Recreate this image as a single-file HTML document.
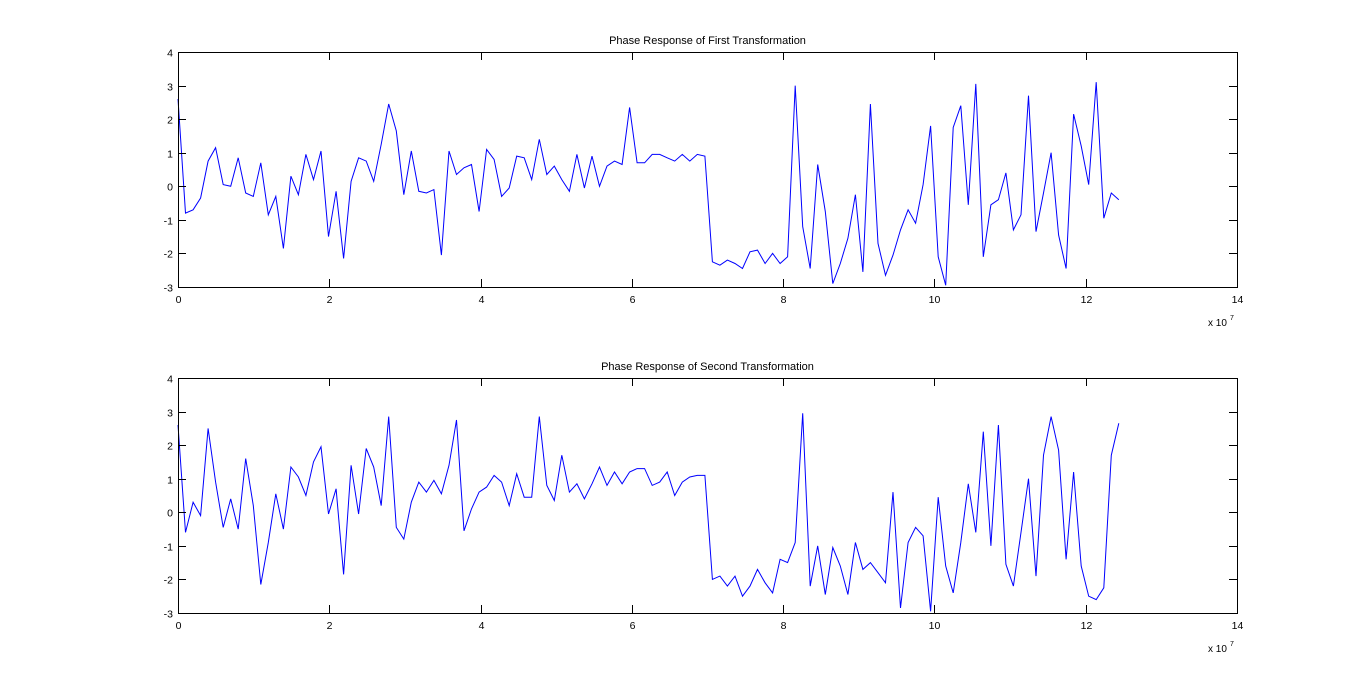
<!DOCTYPE html>
<html><head><meta charset="utf-8">
<style>
html,body{margin:0;padding:0;background:#fff;}
svg{display:block;font-family:"Liberation Sans",sans-serif;}
</style></head>
<body>
<svg id="fig" width="1366" height="689" xmlns="http://www.w3.org/2000/svg"></svg>
<script>
const xStep = 0.0995;
const xTicks = [0,2,4,6,8,10,12,14];
const yTicks = [-3,-2,-1,0,1,2,3,4];
const titles = ["Phase Response of First Transformation","Phase Response of Second Transformation"];
const phase1 = [2.6,-0.8,-0.7,-0.35,0.75,1.15,0.05,0.0,0.85,-0.2,-0.3,0.7,-0.85,-0.3,-1.85,0.3,-0.25,0.95,0.2,1.05,-1.5,-0.15,-2.15,0.15,0.85,0.75,0.15,1.25,2.45,1.65,-0.25,1.05,-0.15,-0.2,-0.1,-2.05,1.05,0.35,0.55,0.65,-0.75,1.1,0.8,-0.3,-0.05,0.9,0.85,0.2,1.4,0.35,0.6,0.2,-0.15,0.95,-0.05,0.9,0.0,0.6,0.75,0.65,2.35,0.7,0.7,0.95,0.95,0.85,0.75,0.95,0.75,0.95,0.9,-2.25,-2.35,-2.2,-2.3,-2.45,-1.95,-1.9,-2.3,-2.0,-2.3,-2.1,3.0,-1.2,-2.45,0.65,-0.75,-2.9,-2.3,-1.55,-0.25,-2.55,2.45,-1.7,-2.65,-2.05,-1.3,-0.7,-1.1,0.05,1.8,-2.1,-2.95,1.75,2.4,-0.55,3.05,-2.1,-0.55,-0.4,0.4,-1.3,-0.85,2.7,-1.35,-0.2,1.0,-1.45,-2.45,2.15,1.2,0.05,3.1,-0.95,-0.2,-0.4];
const phase2 = [2.6,-0.6,0.3,-0.1,2.5,0.9,-0.45,0.4,-0.5,1.6,0.2,-2.15,-0.9,0.55,-0.5,1.35,1.05,0.5,1.5,1.95,-0.05,0.7,-1.85,1.4,-0.05,1.9,1.35,0.2,2.85,-0.45,-0.8,0.3,0.9,0.6,0.95,0.55,1.4,2.75,-0.55,0.1,0.6,0.75,1.1,0.9,0.2,1.15,0.45,0.45,2.85,0.8,0.35,1.7,0.6,0.85,0.4,0.85,1.35,0.8,1.2,0.85,1.2,1.3,1.3,0.8,0.9,1.2,0.5,0.9,1.05,1.1,1.1,-2.0,-1.9,-2.2,-1.9,-2.5,-2.2,-1.7,-2.1,-2.4,-1.4,-1.5,-0.9,2.95,-2.2,-1.0,-2.45,-1.05,-1.6,-2.45,-0.9,-1.7,-1.5,-1.8,-2.1,0.6,-2.85,-0.9,-0.45,-0.7,-2.95,0.45,-1.6,-2.4,-0.9,0.85,-0.6,2.4,-1.0,2.6,-1.55,-2.2,-0.6,1.0,-1.9,1.7,2.85,1.85,-1.4,1.2,-1.6,-2.5,-2.6,-2.25,1.7,2.65];

const NS = "http://www.w3.org/2000/svg";
const svg = document.getElementById('fig');
function mk(tag, attrs, parent){
  const e = document.createElementNS(NS, tag);
  for (const k in attrs) e.setAttribute(k, attrs[k]);
  (parent||svg).appendChild(e);
  return e;
}
const L = 178, R = 1237;
const panels = [{top:52,bottom:287,data:phase1,name:'first'},{top:378,bottom:613,data:phase2,name:'second'}];
panels.forEach((p, pi) => {
  const g = mk('g', {});
  
  
  const xs = v => L + (v - 0) / 14 * (R - L);
  const ys = v => p.bottom - (v + 3) / 7 * (p.bottom - p.top);
  const t = mk('text', {x: (L+R)/2, y: p.top - 8, 'text-anchor':'middle', 'font-size':11, fill:'#000'}, g);
  t.textContent = titles[pi];
  
  
  let d = '';
  p.data.forEach((v, i) => { d += (i ? 'L' : 'M') + xs(i * xStep).toFixed(1) + ' ' + ys(v).toFixed(1); });
  const path = mk('path', {d: d, fill:'none', stroke:'#0000ff', 'stroke-width':1}, g);
  
  
  const fr = mk('rect', {x:L+0.5, y:p.top+0.5, width:R-L, height:p.bottom-p.top, fill:'none', stroke:'#000', 'stroke-width':1}, g);
  
  
  xTicks.forEach(v => {
    const x = Math.round(xs(v)) + 0.5;
    mk('line', {x1:x, x2:x, y1:p.bottom, y2:p.bottom-8, stroke:'#000'}, g);
    mk('line', {x1:x, x2:x, y1:p.top, y2:p.top+8, stroke:'#000'}, g);
    const tl = mk('text', {x:x, y:p.bottom+16, 'text-anchor':'middle', 'font-size':10.5, fill:'#000'}, g);
    tl.textContent = v;
    
    
  });
  yTicks.forEach(v => {
    const y = Math.round(ys(v)) + 0.5;
    mk('line', {x1:L, x2:L+8, y1:y, y2:y, stroke:'#000'}, g);
    mk('line', {x1:R-8, x2:R, y1:y, y2:y, stroke:'#000'}, g);
    const tl = mk('text', {x:L-5, y:y+4, 'text-anchor':'end', 'font-size':10.5, fill:'#000'}, g);
    tl.textContent = v;
    
    
  });
  const ex = mk('text', {x:1208, y:p.bottom+39, 'font-size':10, fill:'#000'}, g);
  ex.textContent = 'x 10';
  
  
  const sup = mk('text', {x:1230, y:p.bottom+33, 'font-size':7, fill:'#000'}, g);
  sup.textContent = '7';
  
  
});
</script>
</body></html>
